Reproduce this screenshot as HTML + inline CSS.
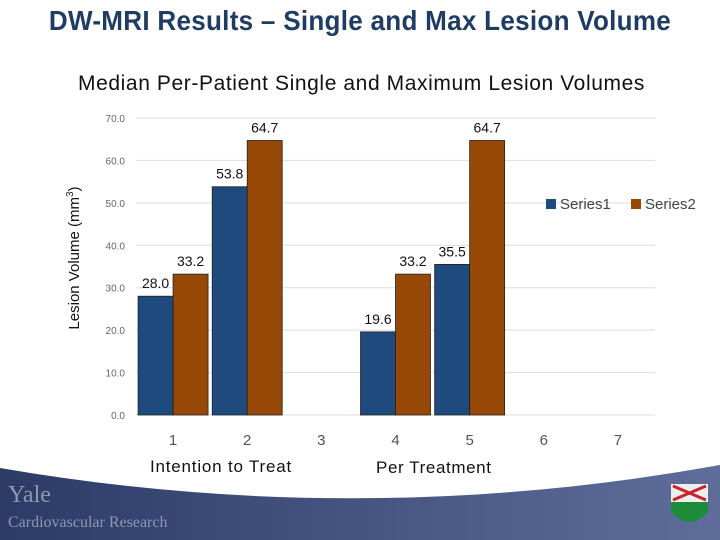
<!DOCTYPE html>
<html><head><meta charset="utf-8"><style>
body{margin:0;width:720px;height:540px;overflow:hidden;background:#fff;font-family:"Liberation Sans",sans-serif;position:relative}
.t{position:absolute;white-space:nowrap}
</style></head><body>
<div class="t" style="left:0;width:720px;text-align:center;top:5px;font-size:28px;letter-spacing:0.3px;color:#1f3c64;font-weight:bold;transform:scaleX(0.93)">DW-MRI Results – Single and Max Lesion Volume</div>
<div class="t" style="left:78px;top:72px;font-size:21px;letter-spacing:0.6px;color:#111">Median Per-Patient Single and Maximum Lesion Volumes</div>
<div class="t" style="left:74px;top:258px;font-size:15px;color:#111;transform:translate(-50%,-50%) rotate(-90deg)">Lesion Volume (mm<sup style="font-size:10px">3</sup>)</div>
<svg id="c" width="720" height="540" style="position:absolute;left:0;top:0">
<defs><linearGradient id="g" x1="0" x2="1"><stop offset="0" stop-color="#2b3b66"/><stop offset="1" stop-color="#5f6d9a"/></linearGradient></defs>
<path d="M0,468 Q360,530 720,465 L720,540 L0,540 Z" fill="url(#g)"/>
</svg>
<div class="t" style="left:8px;top:482px;font-family:'Liberation Serif',serif;font-size:24px;color:#8e97b4">Yale</div>
<div class="t" style="left:8px;top:514px;font-family:'Liberation Serif',serif;font-size:16px;color:#8e97b4">Cardiovascular Research</div>
<div class="t" style="left:150px;top:457px;font-size:17px;letter-spacing:0.8px;color:#111">Intention to Treat</div>
<div class="t" style="left:376px;top:458px;font-size:17px;letter-spacing:0.6px;color:#111">Per Treatment</div>
<script>
const categories=["1","2","3","4","5","6","7"];
const series1=[28.0,53.8,null,19.6,35.5,null,null];
const series2=[33.2,64.7,null,33.2,64.7,null,null];
const yTicks=[0,10,20,30,40,50,60,70];
const svg=document.getElementById('c');const NS='http://www.w3.org/2000/svg';
const x0=136,x1=655,y0=415,yTop=118,ymax=70;
const step=(x1-x0)/categories.length;
const y=v=>y0-(v/ymax)*(y0-yTop);
const cx=i=>x0+step*(i+0.5);
function mk(tag,attrs,txt){const e=document.createElementNS(NS,tag);for(const k in attrs)e.setAttribute(k,attrs[k]);if(txt!=null)e.textContent=txt;svg.appendChild(e);return e;}
yTicks.forEach(t=>{
 const l=mk('line',{x1:x0,x2:x1,y1:y(t),y2:y(t),stroke:'#ddd','stroke-width':1});
 
 
 const tx=mk('text',{x:125,y:y(t)+4,'text-anchor':'end','font-size':10,fill:'#666','font-family':'Liberation Sans'},t.toFixed(1));
 
 
});
categories.forEach((c,i)=>{
 const tx=mk('text',{x:cx(i),y:445,'text-anchor':'middle','font-size':15,fill:'#555','font-family':'Liberation Sans'},c);
 
 
});
const bw=35;
[[series1,'#1f4a7e',-1],[series2,'#974806',0]].forEach(([s,col,off],si)=>{
 s.forEach((v,i)=>{if(v==null)return;
  const bx=cx(i)+off*bw;
  const r=mk('rect',{x:bx,y:y(v),width:bw,height:y0-y(v),fill:col,stroke:'#222','stroke-width':0.8});
  
  
  const tx=mk('text',{x:bx+bw/2,y:y(v)-8,'text-anchor':'middle','font-size':14,fill:'#111','font-family':'Liberation Sans'},v.toFixed(1));
  
  
 });
});
[['Series1','#1f4a7e',546],['Series2','#974806',631]].forEach(([n,col,lx])=>{
 const r=mk('rect',{x:lx,y:199,width:10,height:10,fill:col});
 
 
 const t=mk('text',{x:lx+14,y:209,'font-size':15,fill:'#444','font-family':'Liberation Sans'},n);
 
 
});
const sh=mk('path',{d:'M671,484 L708,484 L708,512 Q690,532 671,512 Z',fill:'#1f8a3a'});


const sh2=mk('rect',{x:671,y:484,width:37,height:18,fill:'#eee'});


const cr=mk('path',{d:'M673,486 L706,500 M706,486 L673,500',stroke:'#c8242b','stroke-width':3});


</script>
</body></html>
